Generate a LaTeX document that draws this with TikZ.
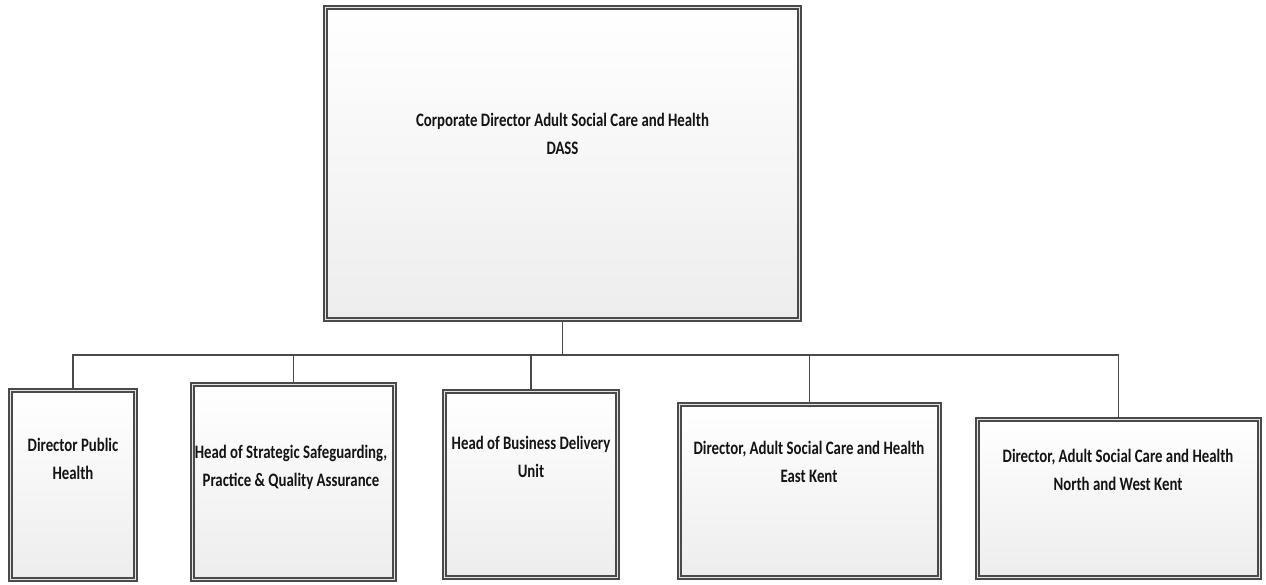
\documentclass[tikz,border=0pt]{standalone}
\usepackage{fontspec}
\newfontfamily\boxfont[FakeStretch=0.78]{Carlito}
\usetikzlibrary{shadows}
\definecolor{linegray}{HTML}{4A4A4A}
\definecolor{boxbottom}{HTML}{EDEDED}
\tikzset{
  orgbox/.style={draw=linegray, line width=1.3pt, double=white!80!gray, double distance=1.5pt,
    top color=white, bottom color=boxbottom, inner sep=0pt,
    drop shadow={shadow xshift=2.5pt, shadow yshift=-2.5pt, fill=black!18, opacity=0.7}},
  orgtext/.style={align=center, text=black!92, font=\boxfont\bfseries\fontsize{19}{28}\selectfont, inner sep=0pt},
  conn/.style={draw=linegray, line width=1.2pt}
}
\begin{document}
\begin{tikzpicture}[x=1pt,y=-1pt]
\useasboundingbox (0,0) rectangle (1266,585);
% boxes
\node[orgbox, minimum width=474pt, minimum height=312pt] (top) at (562.5,163.5) {};
\node[orgbox, minimum width=125pt, minimum height=189pt] (b1) at (73,485) {};
\node[orgbox, minimum width=202pt, minimum height=195pt] (b2) at (293.5,482) {};
\node[orgbox, minimum width=173pt, minimum height=186pt] (b3) at (531,484.5) {};
\node[orgbox, minimum width=260pt, minimum height=173pt] (b4) at (809.5,491) {};
\node[orgbox, minimum width=282pt, minimum height=158pt] (b5) at (1118.5,498.5) {};
% texts
\node[orgtext] (t0) at (562.5,134) {Corporate Director Adult Social Care and Health\\DASS};
\node[orgtext] (t1) at (73,459) {Director Public\\Health};
\node[orgtext] (t2) at (291,467.5) {Head of Strategic Safeguarding,\\Practice \& Quality Assurance};
\node[orgtext] (t3) at (531,457) {Head of Business Delivery\\Unit};
\node[orgtext] (t4) at (809,461.5) {Director, Adult Social Care and Health\\East Kent};
\node[orgtext] (t5) at (1118,470) {Director, Adult Social Care and Health\\North and West Kent};
% connectors
\coordinate (bus) at (562.5,355);
\draw[conn] (top.south) -- (bus);
\draw[conn] (b1.north) |- (bus);
\draw[conn] (b2.north) |- (bus);
\draw[conn] (b3.north) |- (bus);
\draw[conn] (b4.north) |- (bus);
\draw[conn] (b5.north) |- (bus);
\end{tikzpicture}
\end{document}
